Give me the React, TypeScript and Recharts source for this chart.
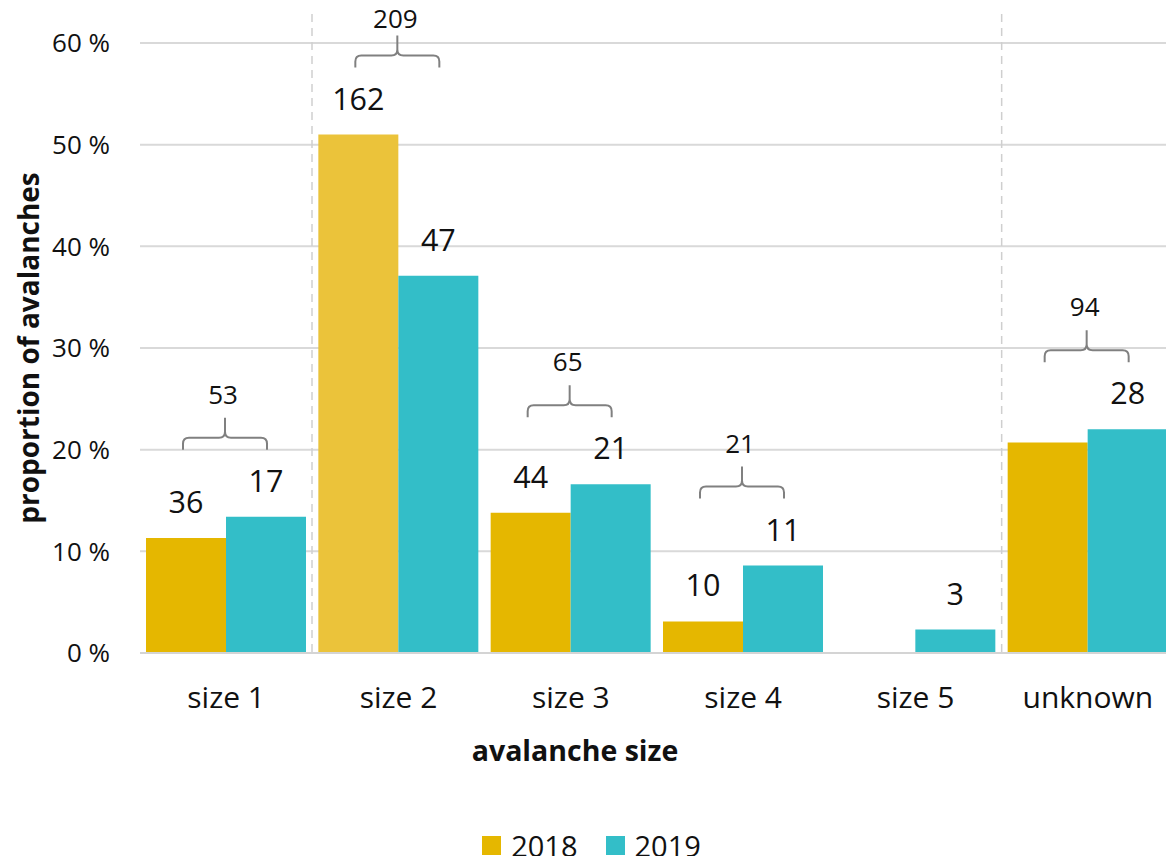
import React from 'react';
import { BarChart, Bar, XAxis, YAxis, CartesianGrid, Legend, Cell, Customized } from 'recharts';

const categories = ['size 1', 'size 2', 'size 3', 'size 4', 'size 5', 'unknown'];
const pct2018 = [11.3, 51.0, 13.8, 3.1, 0, 20.7];
const pct2019 = [13.4, 37.1, 16.6, 8.6, 2.3, 22.0];
const count2018: (number | null)[] = [36, 162, 44, 10, null, 66];
const count2019: (number | null)[] = [17, 47, 21, 11, 3, 28];
const totals: (number | null)[] = [53, 209, 65, 21, null, 94];
const yTicks = [0, 10, 20, 30, 40, 50, 60];

const C2018 = '#E5B700';
const C2018_HL = '#EBC33A';
const C2019 = '#33BEC8';
const FONT = '"Open Sans", sans-serif';

const data = categories.map((c, i) => ({
  name: c,
  y2018: pct2018[i],
  y2019: pct2019[i],
  n2018: count2018[i],
  n2019: count2019[i],
  total: totals[i],
}));

const getBox = (p: any) => {
  const vb = p.viewBox || {};
  return {
    x: Number(p.x ?? vb.x),
    y: Number(p.y ?? vb.y),
    width: Number(p.width ?? vb.width),
    height: Number(p.height ?? vb.height),
  };
};

const label2018 = (p: any) => {
  const { x, y, width } = getBox(p);
  const v = count2018[p.index];
  if (v == null) return null;
  return (
    <text x={x + width / 2} y={y - 37} textAnchor="middle" dominantBaseline="central"
      fontFamily={FONT} fontSize={30.5} fill="#111">{v}</text>
  );
};

const label2019 = (p: any) => {
  const { x, y, width, height } = getBox(p);
  const i = p.index;
  const v = count2019[i];
  const els: React.ReactNode[] = [];
  const bottom = y + height;
  if (v != null) {
    els.push(
      <text key="l" x={x + width / 2} y={y - 37} textAnchor="middle" dominantBaseline="central"
        fontFamily={FONT} fontSize={30.5} fill="#111">{v}</text>
    );
  }
  const ppu = height / pct2019[i];
  const maxV = Math.max(pct2018[i], pct2019[i]);
  const T = bottom - maxV * ppu;
  const t = totals[i];
  if (t != null) {
    const L = x - width / 2 - 3;
    const R = x + width / 2 + 1;
    const m = (L + R) / 2;
    const tip = T - 67;
    const h = T - 79;
    const top = T - 99;
    const r = 6;
    const d = `M${L},${tip} L${L},${h + r} Q${L},${h} ${L + r},${h} L${m - r},${h} Q${m},${h} ${m},${h - r} L${m},${top}` +
      ` M${R},${tip} L${R},${h + r} Q${R},${h} ${R - r},${h} L${m + r},${h} Q${m},${h} ${m},${h - r}`;
    els.push(<path key="b" d={d} fill="none" stroke="#808080" strokeWidth={2} />);
    els.push(
      <text key="t" x={m - 2} y={Math.max(T - 123, 18)} textAnchor="middle" dominantBaseline="central"
        fontFamily={FONT} fontSize={26} fill="#111">{t}</text>
    );
  }
  if (i === 0) {
    const lx = x + width + 6;
    els.push(<line key="d" x1={lx} x2={lx} y1={0} y2={bottom} stroke="#cfcfcf" strokeWidth={1.5} strokeDasharray="8 6" />);
  }
  if (i === categories.length - 1) {
    const lx = x - width - 6;
    els.push(<line key="d" x1={lx} x2={lx} y1={0} y2={bottom} stroke="#cfcfcf" strokeWidth={1.5} strokeDasharray="8 6" />);
  }
  return <g>{els}</g>;
};

const Titles = () => (
  <g>
    <text x={575} y={750} textAnchor="middle" dominantBaseline="central" fontFamily={FONT}
      fontSize={28.5} fontWeight="bold" fill="#111">avalanche size</text>
    <text x={28} y={348} transform="rotate(-90 28 348)" textAnchor="middle" dominantBaseline="central"
      fontFamily={FONT} fontSize={28} fontWeight="bold" fill="#111">proportion of avalanches</text>
  </g>
);

const LegendContent = () => (
  <div style={{ display: 'flex', justifyContent: 'center', alignItems: 'center', paddingLeft: 9, fontFamily: FONT, fontSize: 29, color: '#111' }}>
    <span style={{ width: 19, height: 19, background: C2018, display: 'inline-block', marginRight: 10 }} />
    <span style={{ marginRight: 28 }}>2018</span>
    <span style={{ width: 19, height: 19, background: C2019, display: 'inline-block', marginRight: 10 }} />
    <span>2019</span>
  </div>
);

export default function App() {
  return (
    <div style={{ margin: -8, width: 1174, height: 864, background: '#fff' }}>
      <BarChart width={1174} height={864} data={data}
        margin={{ top: 43, right: 0, left: 0, bottom: 151 }}
        barCategoryGap={6} barGap={0}>
        <CartesianGrid vertical={false} stroke="#d9d9d9" strokeWidth={2} />
        <XAxis dataKey="name" height={60} axisLine={{ stroke: '#d4d4d4', strokeWidth: 2 }} tickLine={false}
          tickSize={0} tickMargin={34} tick={{ fontFamily: FONT, fontSize: 30, fill: '#111' }} interval={0} />
        <YAxis width={140} domain={[0, 60]} ticks={yTicks} axisLine={false} tickLine={false}
          tickSize={0} tickMargin={30} tickFormatter={(v: number) => `${v} %`}
          tick={{ fontFamily: FONT, fontSize: 26, fill: '#111' }} />
        <Bar dataKey="y2018" fill={C2018} isAnimationActive={false} label={label2018}>
          {data.map((d, i) => (
            <Cell key={i} fill={i === 1 ? C2018_HL : C2018} />
          ))}
        </Bar>
        <Bar dataKey="y2019" fill={C2019} isAnimationActive={false} label={label2019} />
        <Legend verticalAlign="middle" layout="horizontal" content={LegendContent}
          wrapperStyle={{ top: 826, left: 0, width: 1174 }} />
        <Customized component={Titles} />
      </BarChart>
    </div>
  );
}
